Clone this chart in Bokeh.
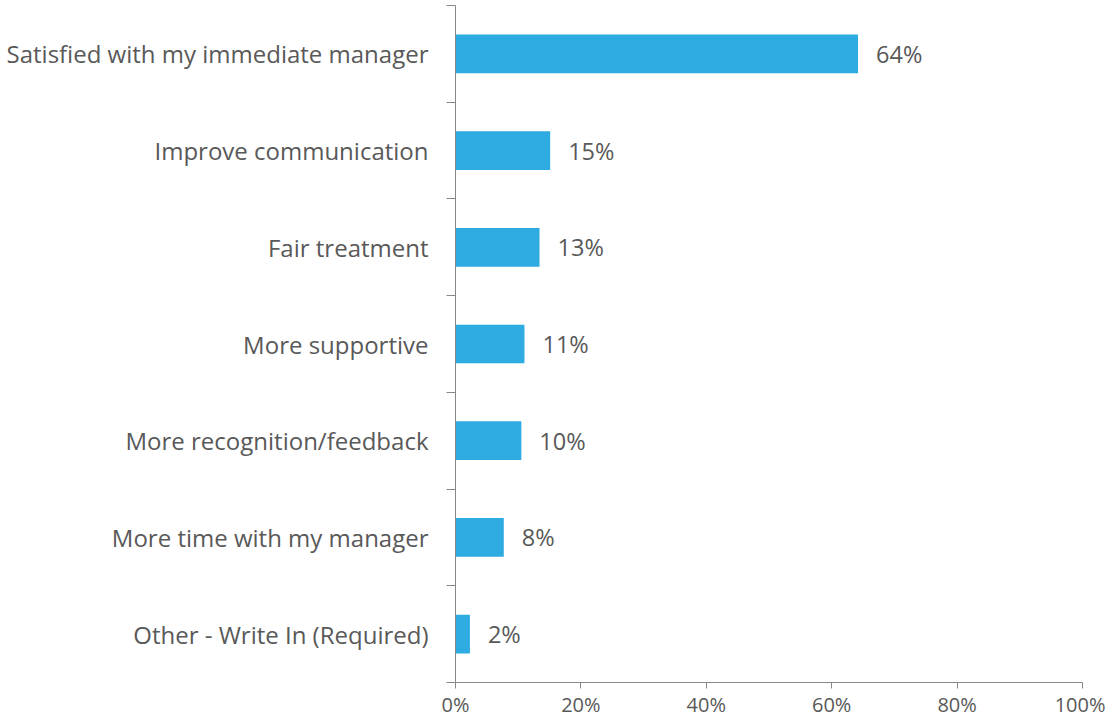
from bokeh.plotting import figure
from bokeh.models import Range1d, FixedTicker, PrintfTickFormatter, ColumnDataSource
from bokeh.core.properties import value
from bokeh.embed import file_html
from bokeh.resources import INLINE

categories = [
    "Satisfied with my immediate manager",
    "Improve communication",
    "Fair treatment",
    "More supportive",
    "More recognition/feedback",
    "More time with my manager",
    "Other - Write In (Required)",
]
values = [64.2, 15.1, 13.4, 11.0, 10.5, 7.7, 2.3]
labels = ["64%", "15%", "13%", "11%", "10%", "8%", "2%"]
x_ticks = [0, 20, 40, 60, 80, 100]

FONT = "Open Sans"
TEXT = "#595959"
AXIS = "#888888"
BAR = "#2EABE1"

n = len(categories)
ypos = [n - 0.5 - i for i in range(n)]

src = ColumnDataSource(dict(y=ypos, v=values, lab=labels))

p = figure(
    width=1105, height=720,
    x_range=Range1d(0, 100), y_range=Range1d(0, n),
    output_backend="svg", toolbar_location=None,
    min_border_left=455, min_border_right=23,
    min_border_top=5, min_border_bottom=34,
)
p.outline_line_color = None
p.xgrid.visible = False
p.ygrid.visible = False
p.background_fill_color = "white"
p.border_fill_color = "white"

p.hbar(y="y", right="v", left=0, height=0.4, source=src,
       fill_color=BAR, line_color=None)
p.text(x="v", y="y", text="lab", source=src, x_offset=18,
       text_align="left", text_baseline="middle",
       text_font=value(FONT), text_font_size="23.5px", text_color=TEXT)

# y axis
ya = p.yaxis[0]
ya.ticker = FixedTicker(ticks=ypos, minor_ticks=list(range(n + 1)))
ya.major_label_overrides = {y: c for y, c in zip(ypos, categories)}
ya.major_tick_out = 0
ya.major_tick_in = 0
ya.minor_tick_out = 9
ya.minor_tick_in = 0
ya.minor_tick_line_color = AXIS
ya.axis_line_color = AXIS
ya.major_label_standoff = 18
ya.major_label_text_font = FONT
ya.major_label_text_font_size = "24px"
ya.major_label_text_color = TEXT

# x axis
xa = p.xaxis[0]
xa.ticker = FixedTicker(ticks=x_ticks, minor_ticks=[])
xa.formatter = PrintfTickFormatter(format="%d%%")
xa.major_tick_out = 6
xa.major_tick_in = 0
xa.major_tick_line_color = AXIS
xa.axis_line_color = AXIS
xa.major_label_standoff = 2
xa.major_label_text_font = FONT
xa.major_label_text_font_size = "20px"
xa.major_label_text_color = TEXT

open("out.html", "w").write(file_html(p, INLINE))
